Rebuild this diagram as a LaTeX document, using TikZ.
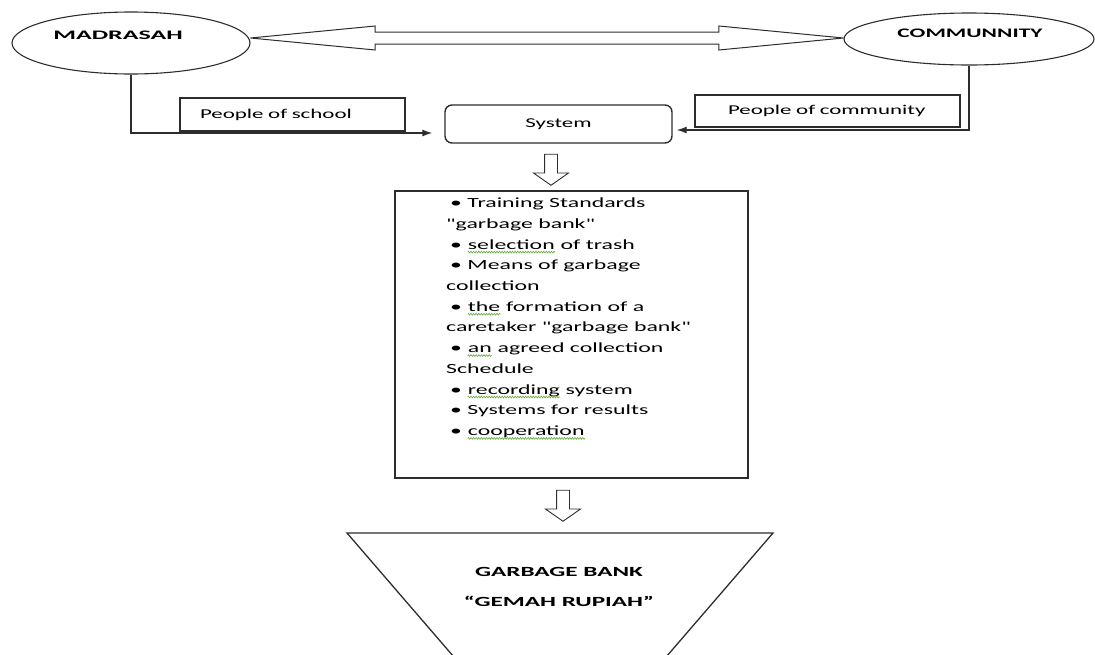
\documentclass[tikz,border=0pt]{standalone}
\usepackage{fontspec}
\setmainfont[FakeStretch=1.7, Ligatures=TeXOff]{Carlito}
\newfontfamily\headfont[FakeStretch=1.8]{Carlito}
\newfontfamily\madfont[FakeStretch=2.0]{Carlito}
\usetikzlibrary{positioning,calc,shapes.geometric,shapes.arrows,arrows.meta,decorations.pathmorphing}
\definecolor{lineclr}{RGB}{45,45,45}
\definecolor{squigclr}{RGB}{100,170,60}
\newcommand{\spellmark}[1]{\tikz[baseline=(w.base),x=1pt,y=1pt]{%
    \node[inner sep=0pt, anchor=base, draw=none] (w) {#1};
    \draw[squigclr, line width=0.6pt, decorate,
        decoration={zigzag, amplitude=0.9pt, segment length=2.6pt}]
        ([yshift=-3pt]w.base west) -- ([yshift=-3pt]w.base east);}}
\tikzset{
    oval/.style={ellipse, draw=lineclr, line width=1.1pt, inner sep=0pt},
    headtext/.style={font=\headfont\bfseries\fontsize{13}{16}\selectfont, inner sep=0pt},
    plainbox/.style={rectangle, draw=lineclr, line width=1.4pt, font=\fontsize{13.5}{16}\selectfont},
    blockdown/.style={single arrow, draw=lineclr, line width=0.9pt, rotate=-90,
        inner sep=6pt, single arrow head extend=11pt, single arrow tip angle=110,
        minimum height=31pt},
    feed/.style={-{Latex[length=10pt,width=7pt]}, draw=lineclr, line width=1.3pt}
}
\begin{document}
\begin{tikzpicture}[x=1pt,y=-1pt]
    \useasboundingbox (0,0) rectangle (1095,654);
    % the two partners
    \node[oval, minimum width=238pt, minimum height=62pt] (madrasah) at (131,43) {};
    \node[headtext, font=\madfont\bfseries\fontsize{13}{16}\selectfont] (madrasah-t) at (118,35) {MADRASAH};
    \node[oval, minimum width=250pt, minimum height=52pt] (community) at (969,39) {};
    \node[headtext] (community-t) at (970,33) {COMMUNNITY};
    \node[double arrow, draw=lineclr, line width=1pt, inner sep=5.5pt,
        double arrow head extend=6pt, double arrow tip angle=11,
        minimum height=593pt] (link) at ($(madrasah.east)!0.5!(community.west)+(0,-3)$) {};
    % people and system
    \node[plainbox, minimum height=33pt, inner xsep=20pt, text width=185pt, align=left]
        (school) at (292.5,114.5) {People of school};
    \node[plainbox, minimum height=32pt, inner xsep=33pt, text width=199pt, align=left]
        (people) at (827.5,111) {People of community};
    \node[plainbox, rounded corners=7pt, minimum width=227pt, minimum height=38pt]
        (system) at (558.5,124) {System};
    \draw[feed, shorten >=12pt] (madrasah.south) |- ([yshift=-9pt]system.west);
    \draw[feed, shorten >=4pt] (community.south) |- ([yshift=-6pt]system.east);
    % what the system does
    \node[blockdown] (down-1) at (551,167.5) {};
    \node[plainbox, minimum width=353pt, minimum height=287pt] (tasks) at (571.5,334.5) {};
    \foreach[count=\j] \lj in {
        {\hspace*{4pt}\textbullet\ Training Standards},
        {"garbage bank"},
        {\hspace*{4pt}\textbullet\ \spellmark{selection} of trash},
        {\hspace*{4pt}\textbullet\ Means of garbage},
        {collection},
        {\hspace*{4pt}\textbullet\ \spellmark{the} formation of a},
        {caretaker "garbage bank"},
        {\hspace*{4pt}\textbullet\ \spellmark{an} agreed collection},
        {Schedule},
        {\hspace*{4pt}\textbullet\ \spellmark{recording} system},
        {\hspace*{4pt}\textbullet\ Systems for results},
        {\hspace*{4pt}\textbullet\ \spellmark{cooperation}}} {
        \node[anchor=base west, inner sep=0pt, font=\fontsize{14}{17}\selectfont]
            (t-\j) at (446,187+20.7*\j) {\lj};
    }
    % the result
    \node[blockdown] (down-2) at (563,503.5) {};
    \begin{scope}
        \clip (0,0) rectangle (1095,654);
        \draw[lineclr, line width=1.3pt] (347,533) -- (773,533) -- (560,780) -- cycle;
    \end{scope}
    \node[headtext, font=\headfont\bfseries\fontsize{14}{30}\selectfont, align=center]
        (bank) at (559,587) {GARBAGE BANK\\“GEMAH RUPIAH”};
\end{tikzpicture}
\end{document}
